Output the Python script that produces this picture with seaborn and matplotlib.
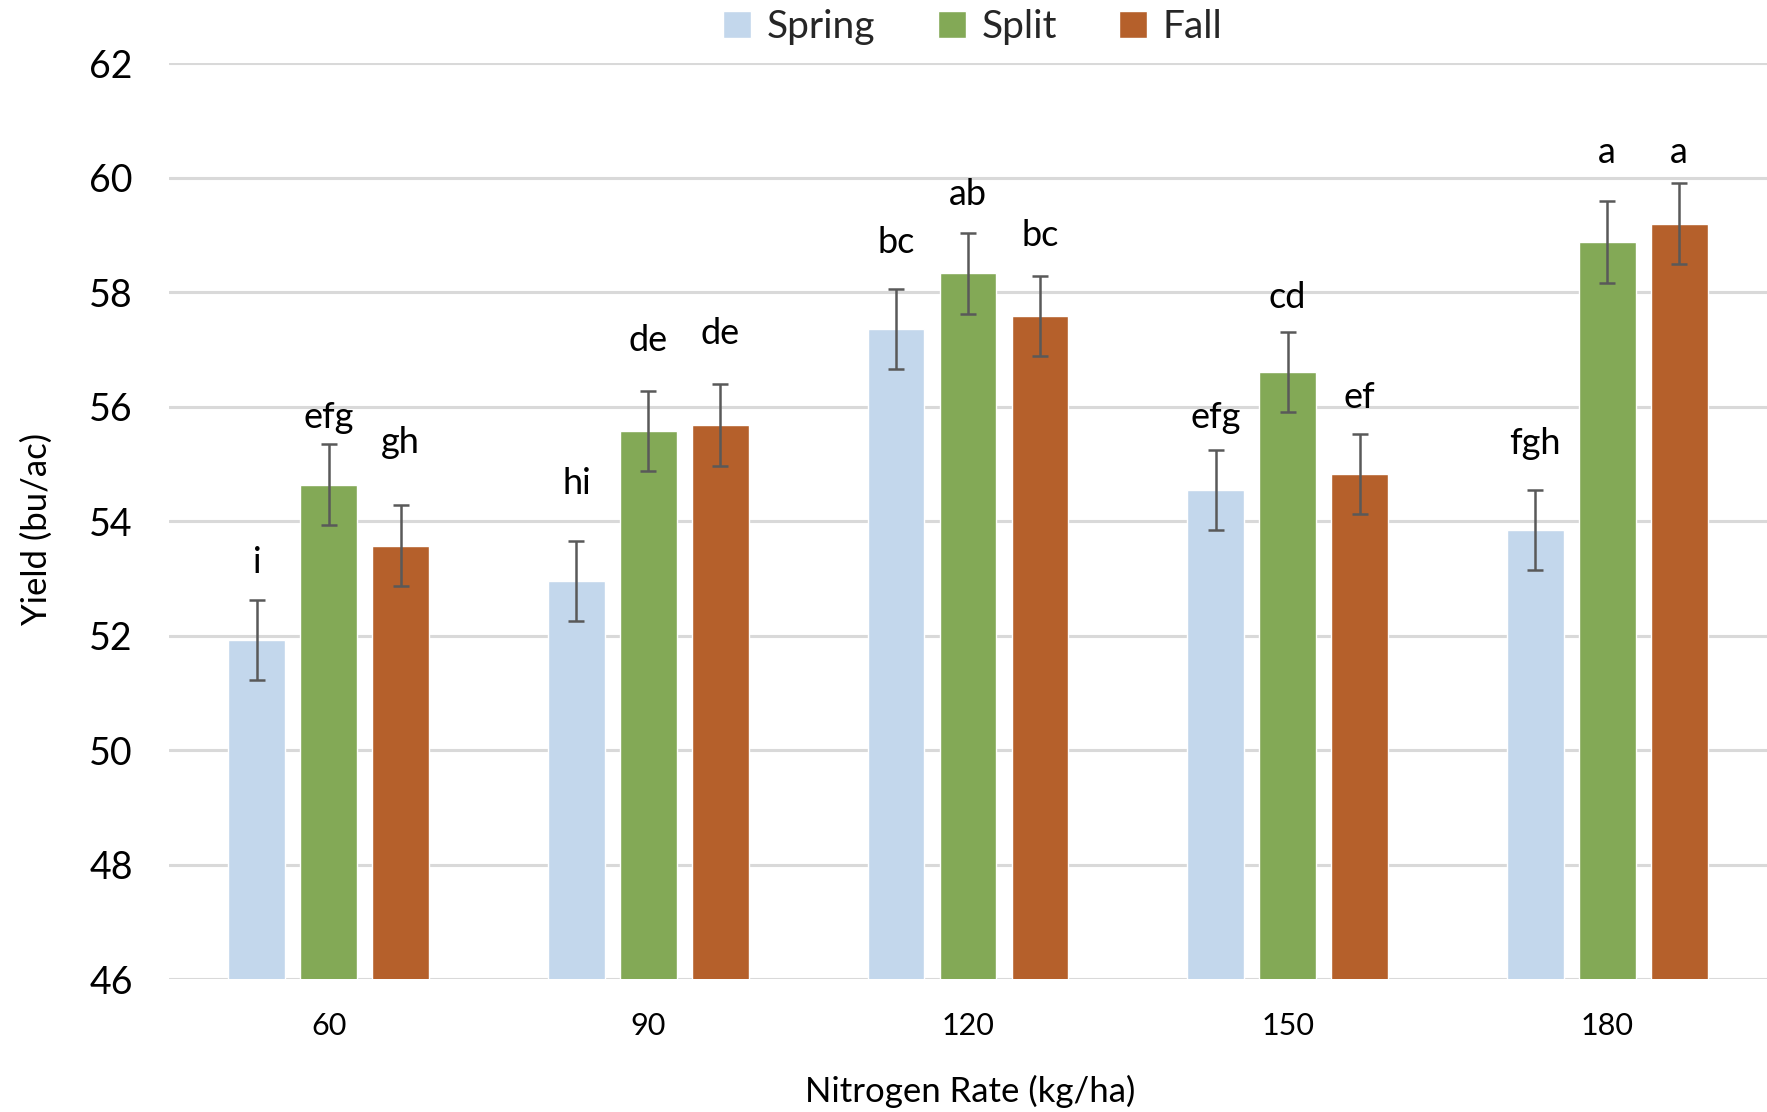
import numpy as np
import pandas as pd
import matplotlib
matplotlib.use("Agg")
import matplotlib.pyplot as plt
import seaborn as sns

# ---- data ----
rates = ["60", "90", "120", "150", "180"]
timings = ["Spring", "Split", "Fall"]
spring = [51.92, 52.96, 57.36, 54.54, 53.85]
split = [54.64, 55.57, 58.33, 56.61, 58.88]
fall = [53.57, 55.68, 57.58, 54.82, 59.20]
spring_err = [0.70, 0.70, 0.70, 0.70, 0.70]
split_err = [0.71, 0.70, 0.71, 0.70, 0.72]
fall_err = [0.71, 0.71, 0.70, 0.70, 0.71]
spring_letters = ["i", "hi", "bc", "efg", "fgh"]
split_letters = ["efg", "de", "ab", "cd", "a"]
fall_letters = ["gh", "de", "bc", "ef", "a"]
spring_letter_y = [53.10, 54.48, 58.68, 55.63, 55.17]
split_letter_y = [55.63, 56.97, 59.53, 57.72, 60.26]
fall_letter_y = [55.19, 57.10, 58.80, 55.98, 60.26]
yticks = [46, 48, 50, 52, 54, 56, 58, 60, 62]

colors = {"Spring": "#C3D7EC", "Split": "#83A956", "Fall": "#B5602B"}

series = {"Spring": spring, "Split": split, "Fall": fall}
errs = {"Spring": spring_err, "Split": split_err, "Fall": fall_err}
letters = {"Spring": spring_letters, "Split": split_letters, "Fall": fall_letters}
letter_y = {"Spring": spring_letter_y, "Split": split_letter_y, "Fall": fall_letter_y}

df = pd.DataFrame(
    [{"rate": r, "timing": t, "yield": series[t][i]}
     for t in timings for i, r in enumerate(rates)]
)

sns.set_theme(style="white")
plt.rcParams["font.family"] = ["Lato", "DejaVu Sans"]

W, H = 1767, 1112
fig = plt.figure(figsize=(W / 100, H / 100), dpi=100)
left, right, top, bottom = 169, 1767, 63.3, 979
ax = fig.add_axes([left / W, 1 - bottom / H, (right - left) / W, (bottom - top) / H])

sns.barplot(data=df, x="rate", y="yield", hue="timing", order=rates,
            hue_order=timings, palette=colors, width=0.675, gap=0.21,
            errorbar=None, saturation=1, ax=ax, zorder=2)

for t, cont in zip(timings, ax.containers):
    xs = [p.get_x() + p.get_width() / 2 for p in cont]
    ax.errorbar(xs, series[t], yerr=errs[t], fmt="none", ecolor="#595959",
                elinewidth=1.8, capsize=5.5, capthick=1.8, zorder=3)
    for x, ly, lab in zip(xs, letter_y[t], letters[t]):
        ax.text(x, ly, lab, ha="center", va="baseline", fontsize=26,
                color="#000000", zorder=4)

ax.set_xlim(-0.5, 4.5)
ax.set_ylim(46, 62)
ax.set_yticks(yticks)
ax.yaxis.grid(True, color="#D9D9D9", linewidth=2.2, zorder=0)
ax.xaxis.grid(False)
ax.set_axisbelow(True)
for s in ax.spines.values():
    s.set_visible(False)
ax.tick_params(axis="y", length=0, pad=26, labelsize=27, labelcolor="#000000")
ax.tick_params(axis="x", length=0, pad=24, labelsize=22, labelcolor="#000000")

ax.set_xlabel("Nitrogen Rate (kg/ha)", fontsize=25, color="#000000")
ax.set_ylabel("Yield (bu/ac)", fontsize=25, color="#000000")
ax.xaxis.set_label_coords((970 - left) / (right - left), -(1075 - bottom) / (bottom - top))
ax.yaxis.set_label_coords(-(left - 53) / (right - left), (bottom - 529) / (bottom - top))

handles, labs = ax.get_legend_handles_labels()
ax.legend(handles, labs, loc="center", bbox_to_anchor=(0.503, 1 + (63.3 - 27) / (bottom - top)),
          ncol=3, frameon=False, fontsize=28, handlelength=0.72, handleheight=0.72,
          handletextpad=0.4, columnspacing=1.6, borderaxespad=0)

fig.savefig("out.png", dpi=100, facecolor="white")
